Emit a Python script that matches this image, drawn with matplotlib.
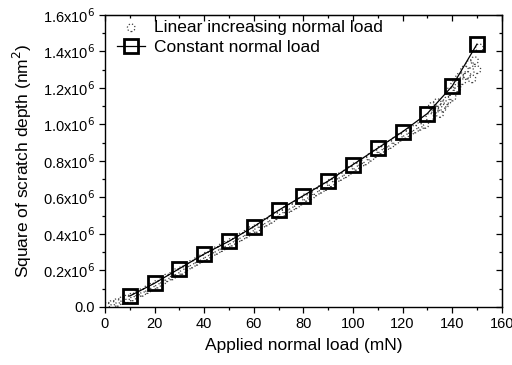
import matplotlib.pyplot as plt
from matplotlib.ticker import MultipleLocator

plt.rcParams["font.family"] = ["Liberation Sans", "DejaVu Sans"]

# constant normal load (squares), y in units of 1e6 nm^2
const_load = [10, 20, 30, 40, 50, 60, 70, 80, 90, 100, 110, 120, 130, 140, 150]
const_depth2 = [0.06, 0.13, 0.21, 0.29, 0.36, 0.44, 0.53, 0.61, 0.69,
                0.78, 0.87, 0.96, 1.06, 1.21, 1.44]

# linear increasing normal load (dotted circles)
lin_load = [1, 3, 5, 7, 9, 11, 13, 15, 17, 19, 21, 23, 25, 27, 29, 31, 33,
            35, 37, 39, 41, 43, 45, 47, 49, 51, 53, 55, 57, 59, 61, 63, 65,
            67, 69, 71, 73, 75, 77, 79, 81, 83, 85, 87, 89, 91, 93, 95, 97,
            99, 101, 103, 105, 107, 109, 111, 113, 115, 117, 119, 121, 123,
            125, 127, 129, 131, 132, 133, 134, 135, 136, 137, 138, 139, 140,
            141, 142, 143, 144, 145, 146, 147, 148, 149, 150, 151]
lin_depth2 = [0.005, 0.015, 0.025, 0.035, 0.045, 0.055, 0.07, 0.08, 0.095,
              0.11, 0.125, 0.14, 0.16, 0.17, 0.19, 0.20, 0.22, 0.235, 0.25,
              0.265, 0.28, 0.295, 0.31, 0.325, 0.34, 0.355, 0.37, 0.385,
              0.40, 0.42, 0.43, 0.45, 0.465, 0.48, 0.50, 0.51, 0.53, 0.545,
              0.56, 0.58, 0.60, 0.61, 0.63, 0.645, 0.66, 0.68, 0.70, 0.715,
              0.73, 0.75, 0.77, 0.785, 0.80, 0.82, 0.84, 0.86, 0.875, 0.89,
              0.91, 0.93, 0.945, 0.96, 0.975, 0.99, 1.00, 1.04, 1.10, 1.08,
              1.12, 1.06, 1.09, 1.11, 1.13, 1.18, 1.15, 1.22, 1.20, 1.26,
              1.24, 1.30, 1.27, 1.33, 1.25, 1.35, 1.30, 1.42]

y_ticks = [0.0, 0.2, 0.4, 0.6, 0.8, 1.0, 1.2, 1.4, 1.6]
y_ticklabels = ["0.0"] + [f"{v:.1f}x10$^6$" for v in y_ticks[1:]]

fig = plt.figure(figsize=(5.12, 3.65), dpi=100)
ax = fig.add_axes([0.205, 0.159, 0.775, 0.80])

ax.scatter(lin_load, lin_depth2, s=30, facecolors="none", edgecolors="0.25",
           linewidths=0.9, linestyles=":", label="Linear increasing normal load",
           zorder=2)
ax.plot(const_load, const_depth2, color="black", lw=0.9, marker="s", ms=10,
        mfc="none", mec="black", mew=2.0, label="Constant normal load", zorder=3)

ax.set_xlim(0, 160)
ax.set_ylim(0, 1.6)
ax.xaxis.set_major_locator(MultipleLocator(20))
ax.xaxis.set_minor_locator(MultipleLocator(10))
ax.set_yticks(y_ticks)
ax.set_yticklabels(y_ticklabels)
ax.yaxis.set_minor_locator(MultipleLocator(0.1))
ax.tick_params(which="both", direction="out", top=False, right=False,
               labelsize=10.5, width=0.9)
ax.tick_params(which="major", length=4)
ax.tick_params(which="minor", length=2.5)

# inward ticks on the top and right edges
ax_top = ax.secondary_xaxis("top")
ax_top.xaxis.set_major_locator(MultipleLocator(20))
ax_top.xaxis.set_minor_locator(MultipleLocator(10))
ax_top.tick_params(which="both", direction="in", labeltop=False, width=0.9)
ax_top.tick_params(which="major", length=4)
ax_top.tick_params(which="minor", length=2.5)
ax_right = ax.secondary_yaxis("right")
ax_right.set_yticks(y_ticks)
ax_right.yaxis.set_minor_locator(MultipleLocator(0.1))
ax_right.tick_params(which="both", direction="in", labelright=False, width=0.9)
ax_right.tick_params(which="major", length=4)
ax_right.tick_params(which="minor", length=2.5)

for sp in ax.spines.values():
    sp.set_linewidth(1.0)

ax.set_xlabel("Applied normal load (mN)", fontsize=12.5, labelpad=5)
ax.set_ylabel("Square of scratch depth (nm$^2$)", fontsize=12.5, labelpad=6)
ax.legend(loc="upper left", bbox_to_anchor=(0.018, 1.0), frameon=False,
          fontsize=12.5, handlelength=1.6, handletextpad=0.5,
          borderaxespad=0.0, labelspacing=0.25, borderpad=0.3)

fig.savefig("out.png", dpi=100)
